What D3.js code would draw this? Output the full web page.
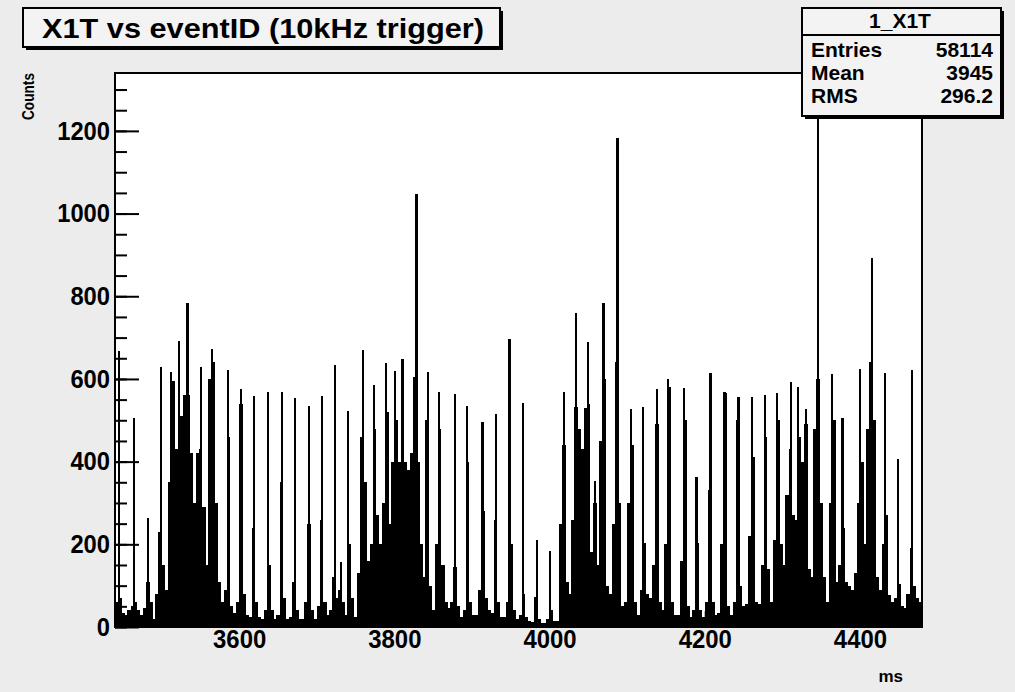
<!DOCTYPE html>
<html>
<head>
<meta charset="utf-8">
<script src="https://cdn.jsdelivr.net/npm/d3@7"></script>
<style>
  body { margin: 0; background: #ececec; }
  text { font-family: "Liberation Sans", Arial, Helvetica, sans-serif; font-weight: bold; fill: #000; }
</style>
</head>
<body>
<script>
// histogram 1_X1T : 4 ms background bins starting at 3440 ms
var binStart = 3440, binWidth = 4;
var bgCounts = [
  60, 70, 35, 30, 40, 50, 60, 40, 30, 45,
  110, 60, 20, 80, 230, 150, 90, 350, 520, 430,
  420, 510, 560, 560, 420, 300, 420, 430, 290, 150,
  600, 640, 300, 110, 60, 90, 460, 50, 35, 60,
  540, 80, 30, 25, 240, 60, 25, 20, 40, 150,
  40, 20, 30, 350, 70, 20, 25, 110, 40, 20,
  20, 60, 250, 40, 20, 50, 260, 60, 30, 40,
  120, 70, 90, 60, 30, 200, 70, 25, 130, 460,
  350, 160, 200, 480, 270, 200, 300, 520, 250, 400,
  500, 400, 520, 400, 380, 420, 605, 400, 200, 120,
  500, 100, 40, 200, 480, 150, 60, 45, 60, 146,
  50, 25, 40, 400, 60, 30, 30, 90, 280, 70,
  40, 35, 260, 60, 25, 25, 60, 200, 40, 20,
  30, 80, 25, 15, 12, 73, 20, 10, 10, 20,
  40, 15, 15, 250, 440, 110, 80, 260, 533, 480,
  430, 530, 540, 182, 300, 150, 450, 600, 100, 80,
  250, 640, 300, 50, 60, 300, 440, 60, 30, 90,
  202, 80, 70, 150, 490, 60, 40, 200, 580, 60,
  30, 30, 160, 500, 50, 25, 40, 202, 40, 25,
  60, 331, 60, 30, 35, 200, 565, 50, 30, 60,
  500, 100, 50, 55, 220, 410, 60, 55, 150, 460,
  140, 60, 210, 500, 200, 150, 320, 430, 270, 260,
  460, 400, 490, 140, 120, 480, 600, 300, 120, 60,
  300, 500, 110, 150, 240, 110, 100, 90, 130, 300,
  400, 200, 480, 640, 500, 120, 90, 200, 270, 78,
  60, 70, 103, 50, 45, 80, 191, 100, 70, 60
];

// narrow 1 ms spikes
var spikeMs = [
  3445, 3464, 3482, 3499, 3512, 3515, 3522, 3533, 3550, 3565,
  3585, 3602, 3619, 3637, 3655, 3671, 3689, 3706, 3723, 3731,
  3740, 3759, 3773, 3789, 3800, 3810, 3828, 3843, 3857, 3878,
  3893, 3913, 3931, 3948, 3965, 3983, 4000, 4018, 4034, 4049,
  4058, 4069, 4087, 4104, 4120, 4138, 4152, 4173, 4189, 4207,
  4225, 4243, 4260, 4277, 4293, 4311, 4320, 4330, 4346, 4363,
  4377, 4400, 4415, 4432, 4449, 4467
];
var spikeCounts = [
  666, 505, 263, 626, 614, 593, 690, 783, 626, 670,
  621, 573, 557, 567, 567, 551, 533, 557, 631, 155,
  521, 668, 583, 636, 617, 647, 1045, 616, 567, 561,
  533, 494, 514, 694, 539, 208, 181, 567, 758, 687,
  351, 783, 1182, 525, 531, 573, 599, 577, 360, 612,
  567, 555, 555, 560, 565, 590, 580, 525, 1276, 610,
  505, 623, 890, 613, 404, 621
];

var xTicks = [3600, 3800, 4000, 4200, 4400];
var yTicks = [0, 200, 400, 600, 800, 1000, 1200];
var titleText = "X1T vs eventID (10kHz trigger)";
var statTitle = "1_X1T";
var statNames = ["Entries", "Mean", "RMS"];
var statValues = ["58114", "3945", "296.2"];

var W = 1015, H = 692;
var frameL = 115, frameR = 922, frameT = 73, frameB = 627;

var svg = d3.select("body").append("svg")
    .attr("width", W)
    .attr("height", H);

svg.append("rect").attr("width", W).attr("height", H).attr("fill", "#ececec");

var x = d3.scaleLinear().domain([3440, 4480]).range([frameL, frameR]);
var y = d3.scaleLinear().domain([0, 1340]).range([frameB, frameT]);

// plot area
svg.append("rect")
    .attr("x", frameL).attr("y", frameT)
    .attr("width", frameR - frameL).attr("height", frameB - frameT)
    .attr("fill", "#fff");

var hist = svg.append("g").attr("shape-rendering", "crispEdges");

hist.selectAll("rect.bg")
    .data(bgCounts)
    .enter()
    .append("rect")
    .attr("class", "bg")
    .attr("x", function (d, i) { return x(binStart + i * binWidth); })
    .attr("width", function (d, i) { return x(binStart + (i + 1) * binWidth) - x(binStart + i * binWidth) + 0.5; })
    .attr("y", function (d) { return y(d); })
    .attr("height", function (d) { return y(0) - y(d); })
    .attr("fill", "#000");

hist.selectAll("rect.spike")
    .data(spikeMs)
    .enter()
    .append("rect")
    .attr("class", "spike")
    .attr("x", function (d) { return x(d); })
    .attr("width", function (d) { return x(d + 1) - x(d); })
    .attr("y", function (d, i) { return y(spikeCounts[i]); })
    .attr("height", function (d, i) { return y(0) - y(spikeCounts[i]); })
    .attr("fill", "#000")
    .attr("stroke", "#000")
    .attr("stroke-width", 1.4);

// condensed bold digits, like the original screen grab
function squeeze(sel, size, perChar) {
  sel.attr("font-size", size)
     .style("font-family", "'Liberation Sans', Arial, sans-serif")
     .style("font-weight", "bold")
     .attr("lengthAdjust", "spacingAndGlyphs")
     .attr("textLength", function () { return this.textContent.length * perChar; });
}

// y axis: major and minor ticks pointing inward
var yMinor = d3.range(0, 1340, 50);
svg.append("g")
    .attr("transform", "translate(" + frameL + ",0)")
    .call(d3.axisLeft(y).tickValues(yMinor).tickSize(-12).tickFormat(""))
    .call(function (g) { g.select(".domain").remove(); g.selectAll("line").attr("stroke-width", 2); });

var yAxis = svg.append("g")
    .attr("transform", "translate(" + frameL + ",0)")
    .call(d3.axisLeft(y).tickValues(yTicks).tickSize(-24).tickPadding(5).tickFormat(d3.format("d")));
yAxis.select(".domain").remove();
yAxis.selectAll("line").attr("stroke-width", 2);
squeeze(yAxis.selectAll("text"), 26, 13.2);

// x axis
var xMinor = d3.range(3440, 4481, 20);
svg.append("g")
    .attr("transform", "translate(0," + frameB + ")")
    .call(d3.axisBottom(x).tickValues(xMinor).tickSize(-8).tickFormat(""))
    .call(function (g) { g.select(".domain").remove(); });

var xAxis = svg.append("g")
    .attr("transform", "translate(0," + frameB + ")")
    .call(d3.axisBottom(x).tickValues(xTicks).tickSize(-16).tickPadding(3).tickFormat(d3.format("d")));
xAxis.select(".domain").remove();
squeeze(xAxis.selectAll("text"), 26, 13.3);

// frame
svg.append("rect")
    .attr("x", frameL).attr("y", frameT)
    .attr("width", frameR - frameL).attr("height", frameB - frameT)
    .attr("fill", "none")
    .attr("stroke", "#000")
    .attr("stroke-width", 2);

// axis titles
svg.append("text")
    .attr("transform", "translate(34,73) rotate(-90)")
    .attr("text-anchor", "end")
    .attr("font-size", 17)
    .attr("textLength", 47)
    .attr("lengthAdjust", "spacingAndGlyphs")
    .text("Counts");

svg.append("text")
    .attr("x", 903).attr("y", 682)
    .attr("text-anchor", "end")
    .attr("font-size", 17)
    .text("ms");

// boxes with ROOT-style shadow
function shadowBox(bx, by, bw, bh) {
  svg.append("rect").attr("x", bx + 3).attr("y", by + 3).attr("width", bw).attr("height", bh).attr("fill", "#000");
  svg.append("rect").attr("x", bx).attr("y", by).attr("width", bw).attr("height", bh)
      .attr("fill", "#f3f3f3").attr("stroke", "#000").attr("stroke-width", 2);
}

shadowBox(23, 8, 477, 39);
svg.append("text")
    .attr("x", 263).attr("y", 38)
    .attr("text-anchor", "middle")
    .attr("font-size", 28)
    .attr("textLength", 442)
    .attr("lengthAdjust", "spacingAndGlyphs")
    .text(titleText);

// stats box
shadowBox(802, 8, 199, 108);
svg.append("line")
    .attr("x1", 802).attr("x2", 1001).attr("y1", 35).attr("y2", 35)
    .attr("stroke", "#000").attr("stroke-width", 2);
svg.append("text")
    .attr("x", 900).attr("y", 28)
    .attr("text-anchor", "middle")
    .attr("font-size", 21)
    .text(statTitle);

var rowY = [57, 80, 103];
svg.selectAll("text.sname")
    .data(statNames)
    .enter()
    .append("text")
    .attr("class", "sname")
    .attr("x", 811)
    .attr("y", function (d, i) { return rowY[i]; })
    .attr("font-size", 21)
    .text(function (d) { return d; });

svg.selectAll("text.sval")
    .data(statValues)
    .enter()
    .append("text")
    .attr("class", "sval")
    .attr("x", 993)
    .attr("y", function (d, i) { return rowY[i]; })
    .attr("text-anchor", "end")
    .attr("font-size", 21)
    .text(function (d) { return d; });
</script>
</body>
</html>
